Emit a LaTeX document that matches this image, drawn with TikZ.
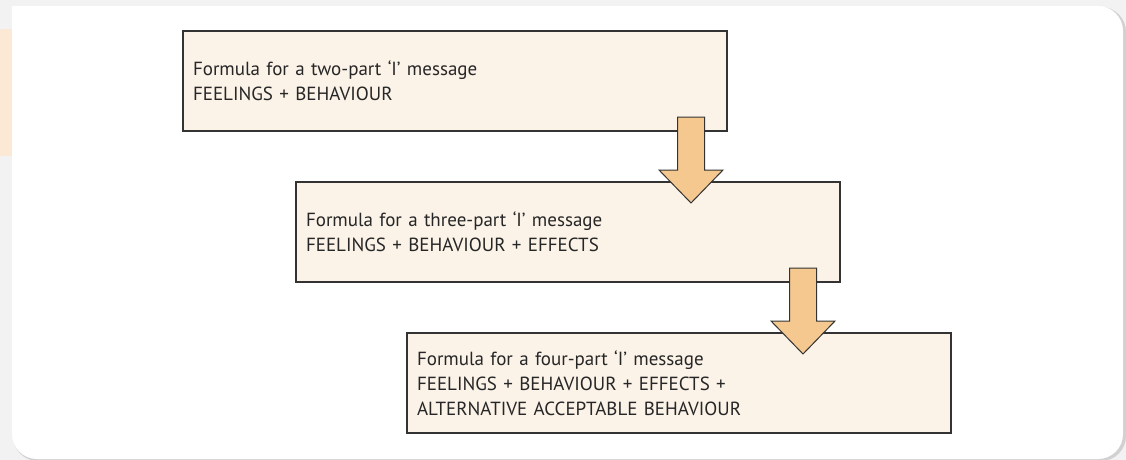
\documentclass[tikz,border=0pt]{standalone}
\usepackage{fontspec}
\setmainfont{PT Sans}
\usetikzlibrary{positioning,calc,shadows}
\definecolor{boxfill}{HTML}{FBF2E8}
\definecolor{arrowfill}{HTML}{F5C88F}
\definecolor{tabfill}{HTML}{FBE9D6}
\definecolor{edgegray}{HTML}{333333}
\definecolor{pagegray}{HTML}{F2F2F2}
\tikzset{
  % Define style for message boxes
  box/.style={
    rectangle,
    draw=edgegray, line width=1.2pt,
    fill=boxfill,
    text width=524pt,
    inner xsep=10pt, inner ysep=0pt, outer sep=0pt,
    minimum height=100pt,
    align=left,
    text=black!85,
    font=\fontsize{19}{25}\selectfont,
    drop shadow={shadow xshift=1pt, shadow yshift=-1pt, fill=black!40, opacity=.6}},
  % Define style for block arrows
  blockarrow/.style={
    draw=edgegray, line width=1pt,
    fill=arrowfill,
    line join=miter},
}
\def\blockdown#1#2{ % #1 Style, #2 Top centre
\draw[#1] ($(#2)+(-13.5,0)$) -- ($(#2)+(13.5,0)$) -- ($(#2)+(13.5,53)$)
  -- ($(#2)+(32,53)$) -- ($(#2)+(0,86)$) -- ($(#2)+(-32,53)$)
  -- ($(#2)+(-13.5,53)$) -- cycle;
}

\begin{document}
\begin{tikzpicture}[x=1pt, y=-1pt]
  \useasboundingbox (0,0) rectangle (1126,460);
  % panel
  \fill[pagegray] (0,0) rectangle (1126,460);
  \fill[tabfill] (0,29) rectangle (12,156);
  \fill[black!18, rounded corners=25pt] (13,7) rectangle (1126,461);
  \fill[white, rounded corners=25pt] (12,6) rectangle (1123,459);
  \fill[white] (12,6) rectangle (60,60);

  % nodes
  \node[box, anchor=north west] (two) at (183,31)
    {Formula for a two-part ‘I’ message\\FEELINGS + BEHAVIOUR};
  \node[box, below right=51pt and -431pt of two] (three)
    {Formula for a three-part ‘I’ message\\FEELINGS + BEHAVIOUR + EFFECTS};
  \node[box, below right=51pt and -433pt of three] (four)
    {Formula for a four-part ‘I’ message\\FEELINGS + BEHAVIOUR + EFFECTS +\\ALTERNATIVE ACCEPTABLE BEHAVIOUR};

  % arrows
  \coordinate (a1) at ($(two.south east)+(-36,-14)$);
  \coordinate (a2) at ($(three.south east)+(-37,-14)$);
  \blockdown{blockarrow}{a1};
  \blockdown{blockarrow}{a2};
\end{tikzpicture}
\end{document}
